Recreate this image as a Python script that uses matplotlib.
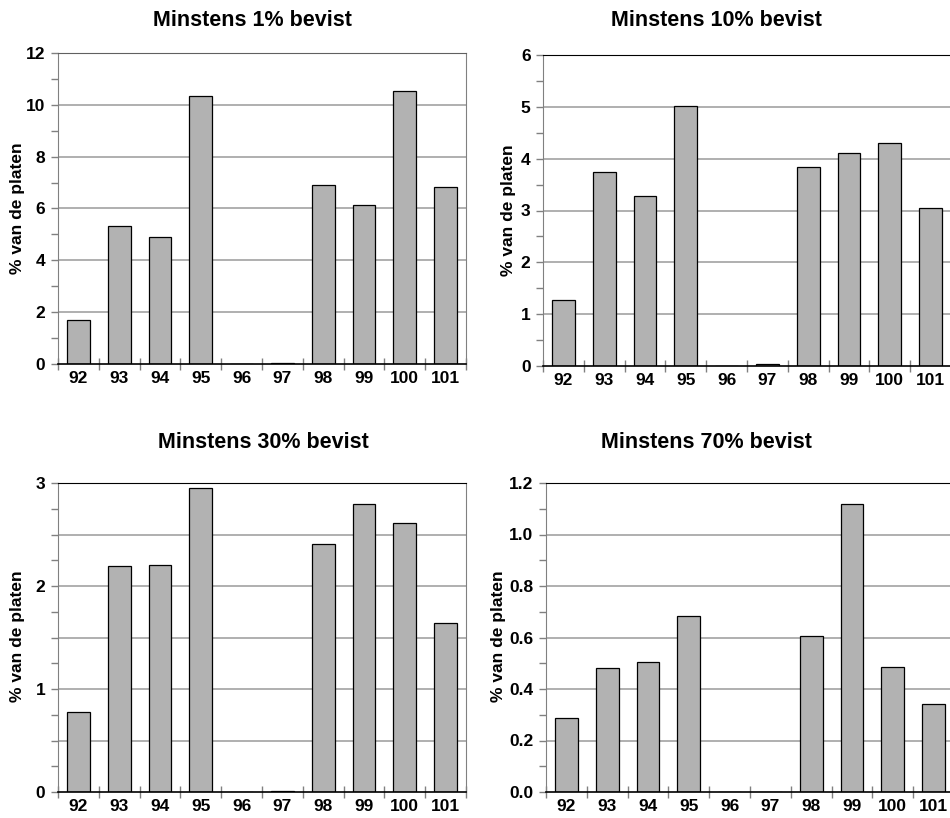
import matplotlib

matplotlib.use("Agg")

import matplotlib.pyplot as plt
import numpy as np
from matplotlib.ticker import FixedLocator, MultipleLocator

plt.rcParams["font.family"] = ["Liberation Sans", "DejaVu Sans"]
plt.rcParams["font.weight"] = "bold"

years = ["92", "93", "94", "95", "96", "97", "98", "99", "100", "101"]

pct_1 = [1.71, 5.33, 4.89, 10.36, 0.0, 0.05, 6.92, 6.12, 10.53, 6.83]
pct_10 = [1.27, 3.74, 3.28, 5.02, 0.0, 0.03, 3.83, 4.10, 4.31, 3.05]
pct_30 = [0.775, 2.19, 2.20, 2.95, 0.0, 0.01, 2.405, 2.80, 2.615, 1.64]
pct_70 = [0.288, 0.483, 0.505, 0.683, 0.0, 0.0, 0.607, 1.117, 0.487, 0.341]

titles = ["Minstens 1% bevist", "Minstens 10% bevist",
          "Minstens 30% bevist", "Minstens 70% bevist"]

W, H = 950, 818
GRID = "#9a9a9a"
BAR = "#b2b2b2"


def px_axes(fig, left, top, right, bottom):
    return fig.add_axes([left / W, 1 - bottom / H, (right - left) / W, (bottom - top) / H])


def draw_panel(ax, values, ymax, grid_step, tick_step, label_step, fmt, top_color):
    x = np.arange(len(years))
    ax.set_xlim(-0.5, len(years) - 0.5)
    ax.set_ylim(0, ymax)
    for y in np.arange(grid_step, ymax - 1e-9, grid_step):
        ax.axhline(y, color=GRID, linewidth=1.1, zorder=0)
    ax.bar(x, values, width=0.56, color=BAR, edgecolor="black", linewidth=0.9, zorder=2)

    ax.set_xticks(x)
    ax.set_xticklabels(years, fontsize=12.5, fontweight="bold")
    ax.xaxis.set_minor_locator(FixedLocator(np.arange(-0.5, len(years), 1.0)))
    ax.tick_params(axis="x", which="major", length=0, pad=5)
    ax.tick_params(axis="x", which="minor", direction="inout", length=9,
                   color="#808080", width=1)

    majors = np.round(np.arange(0, ymax + 1e-9, grid_step), 6)
    ax.set_yticks(majors)
    labels = []
    for v in majors:
        if abs(v / label_step - round(v / label_step)) < 1e-6:
            labels.append(fmt.format(v))
        else:
            labels.append("")
    ax.set_yticklabels(labels, fontsize=12.5, fontweight="bold")
    ax.yaxis.set_minor_locator(MultipleLocator(tick_step))
    ax.tick_params(axis="y", which="both", direction="out", length=5,
                   color="#808080", width=1, pad=4)

    ax.spines["bottom"].set_color("black")
    ax.spines["bottom"].set_linewidth(1.2)
    ax.spines["left"].set_color("#808080")
    ax.spines["right"].set_color("#808080")
    ax.spines["top"].set_color(top_color)
    for s in ax.spines.values():
        s.set_zorder(3)


fig = plt.figure(figsize=(W / 100, H / 100), dpi=100)

ax1 = px_axes(fig, 58, 53, 466, 364)
draw_panel(ax1, pct_1, 12, 2, 1, 2, "{:.0f}", "#606060")
ax2 = px_axes(fig, 543, 55, 951, 366)
draw_panel(ax2, pct_10, 6, 1, 0.5, 1, "{:.0f}", "black")
ax3 = px_axes(fig, 58, 483, 466, 792)
draw_panel(ax3, pct_30, 3, 0.5, 0.25, 1, "{:.0f}", "black")
ax4 = px_axes(fig, 546, 483, 954, 792)
draw_panel(ax4, pct_70, 1.2, 0.2, 0.1, 0.2, "{:.1f}", "black")

# panel titles and y labels, placed in pixel coordinates
title_pos = [(252, 21), (716, 20), (263, 443), (706, 443)]
for t, (tx, ty) in zip(titles, title_pos):
    fig.text(tx / W, 1 - ty / H, t, ha="center", va="center",
             fontsize=15.5, fontweight="bold")

ylabel_pos = [(18, 208), (508, 210), (18, 636), (498, 636)]
for lx, ly in ylabel_pos:
    fig.text(lx / W, 1 - ly / H, "% van de platen", ha="center", va="center",
             rotation=90, fontsize=12.5, fontweight="bold")

fig.savefig("out.png", dpi=100)
